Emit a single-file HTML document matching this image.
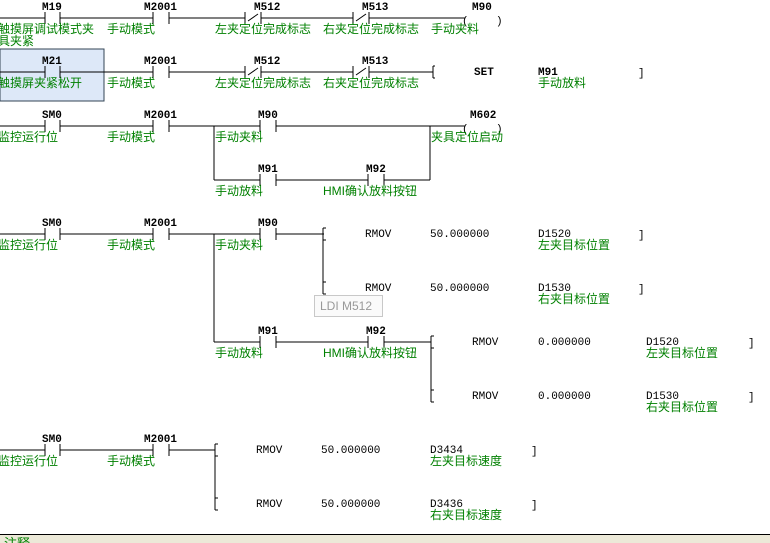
<!DOCTYPE html>
<html><head><meta charset="utf-8"><style>
html,body{margin:0;padding:0;background:#fff;width:770px;height:543px;overflow:hidden}
svg{display:block}
.d{font-family:"Liberation Mono",monospace;font-size:11px;font-weight:bold;fill:#000}
.c{font-family:"Liberation Sans","WenQuanYi Zen Hei","Noto Sans CJK SC",sans-serif;font-size:12px;fill:#008000}
.n{font-family:"Liberation Mono",monospace;font-size:11px;fill:#000}
line,path,polyline{stroke:#000;stroke-width:1;fill:none}
</style></head><body>
<svg width="770" height="543" viewBox="0 0 770 543" xmlns="http://www.w3.org/2000/svg" shape-rendering="crispEdges">
<rect x="0" y="49" width="104" height="52" fill="#dde8f8" stroke="#334455"/>
<!-- Row1 y=18 -->
<line x1="0" y1="18" x2="45" y2="18"/><line x1="60" y1="18" x2="153" y2="18"/><line x1="169" y1="18" x2="245" y2="18"/><line x1="261" y1="18" x2="353" y2="18"/><line x1="369" y1="18" x2="465" y2="18"/>
<path d="M45 12V24M60 12V24M153 12V24M169 12V24M245 12V24M261 12V24M353 12V24M369 12V24"/>
<path d="M248 21L258 14M356 21L366 14" shape-rendering="auto"/>
<text class="n" x="462" y="24">(</text><text class="n" x="496" y="24">)</text>
<text class="d" x="42" y="10">M19</text><text class="d" x="144" y="10">M2001</text><text class="d" x="254" y="10">M512</text><text class="d" x="362" y="10">M513</text><text class="d" x="472" y="10">M90</text>
<text class="c" x="-2" y="33">触摸屏调试模式夹</text><text class="c" x="-2" y="45">具夹紧</text><text class="c" x="107" y="33">手动模式</text><text class="c" x="215" y="33">左夹定位完成标志</text><text class="c" x="323" y="33">右夹定位完成标志</text><text class="c" x="431" y="33">手动夹料</text>
<!-- Row2 y=72 -->
<line x1="0" y1="72" x2="45" y2="72"/><line x1="60" y1="72" x2="153" y2="72"/><line x1="169" y1="72" x2="245" y2="72"/><line x1="261" y1="72" x2="353" y2="72"/><line x1="369" y1="72" x2="433" y2="72"/>
<path d="M45 66V78M60 66V78M153 66V78M169 66V78M245 66V78M261 66V78M353 66V78M369 66V78M433 66V78M433 66H435M433 78H435"/>
<path d="M248 75L258 68M356 75L366 68" shape-rendering="auto"/>
<text class="d" x="42" y="64" fill="#334">M21</text><text class="d" x="144" y="64">M2001</text><text class="d" x="254" y="64">M512</text><text class="d" x="362" y="64">M513</text>
<text class="d" x="474" y="75">SET</text><text class="d" x="538" y="75">M91</text><text class="n" x="638" y="76">]</text>
<text class="c" x="-2" y="87">触摸屏夹紧松开</text><text class="c" x="107" y="87">手动模式</text><text class="c" x="215" y="87">左夹定位完成标志</text><text class="c" x="323" y="87">右夹定位完成标志</text><text class="c" x="538" y="87">手动放料</text>
<!-- Row3 y=126 -->
<line x1="0" y1="126" x2="45" y2="126"/><line x1="60" y1="126" x2="153" y2="126"/><line x1="169" y1="126" x2="260" y2="126"/><line x1="276" y1="126" x2="465" y2="126"/>
<path d="M45 120V132M60 120V132M153 120V132M169 120V132M260 120V132M276 120V132M214 126V180M430 126V180"/>
<line x1="214" y1="180" x2="260" y2="180"/><line x1="276" y1="180" x2="368" y2="180"/><line x1="384" y1="180" x2="430" y2="180"/>
<path d="M260 174V186M276 174V186M368 174V186M384 174V186"/>
<text class="n" x="462" y="132">(</text><text class="n" x="496" y="132">)</text>
<text class="d" x="42" y="118">SM0</text><text class="d" x="144" y="118">M2001</text><text class="d" x="258" y="118">M90</text><text class="d" x="470" y="118">M602</text>
<text class="d" x="258" y="172">M91</text><text class="d" x="366" y="172">M92</text>
<text class="c" x="-2" y="141">监控运行位</text><text class="c" x="107" y="141">手动模式</text><text class="c" x="215" y="141">手动夹料</text><text class="c" x="431" y="141">夹具定位启动</text>
<text class="c" x="215" y="195">手动放料</text><text class="c" x="323" y="195">HMI确认放料按钮</text>
<!-- Row4 y=234 -->
<line x1="0" y1="234" x2="45" y2="234"/><line x1="60" y1="234" x2="153" y2="234"/><line x1="169" y1="234" x2="260" y2="234"/><line x1="276" y1="234" x2="324" y2="234"/>
<path d="M45 228V240M60 228V240M153 228V240M169 228V240M260 228V240M276 228V240M214 234V342M323 234V288M323 228V240M323 228H326M323 240H326M323 282V294M323 282H326M323 294H326"/>
<text class="d" x="42" y="226">SM0</text><text class="d" x="144" y="226">M2001</text><text class="d" x="258" y="226">M90</text>
<text class="c" x="-2" y="249">监控运行位</text><text class="c" x="107" y="249">手动模式</text><text class="c" x="215" y="249">手动夹料</text>
<text class="n" x="365" y="237">RMOV</text><text class="n" x="430" y="237">50.000000</text><text class="n" x="538" y="237">D1520</text><text class="n" x="638" y="238">]</text><text class="c" x="538" y="249">左夹目标位置</text>
<text class="n" x="365" y="291">RMOV</text><text class="n" x="430" y="291">50.000000</text><text class="n" x="538" y="291">D1530</text><text class="n" x="638" y="292">]</text><text class="c" x="538" y="303">右夹目标位置</text>
<line x1="214" y1="342" x2="260" y2="342"/><line x1="276" y1="342" x2="368" y2="342"/><line x1="384" y1="342" x2="431" y2="342"/>
<path d="M260 336V348M276 336V348M368 336V348M384 336V348M431 342V396M431 336V348M431 336H434M431 348H434M431 390V402M431 390H434M431 402H434"/>
<text class="d" x="258" y="334">M91</text><text class="d" x="366" y="334">M92</text>
<text class="c" x="215" y="357">手动放料</text><text class="c" x="323" y="357">HMI确认放料按钮</text>
<text class="n" x="472" y="345">RMOV</text><text class="n" x="538" y="345">0.000000</text><text class="n" x="646" y="345">D1520</text><text class="n" x="748" y="346">]</text><text class="c" x="646" y="357">左夹目标位置</text>
<text class="n" x="472" y="399">RMOV</text><text class="n" x="538" y="399">0.000000</text><text class="n" x="646" y="399">D1530</text><text class="n" x="748" y="400">]</text><text class="c" x="646" y="411">右夹目标位置</text>
<!-- tooltip -->
<rect x="314.5" y="295.5" width="68" height="21" fill="#fafafa" stroke="#c8c8c8"/>
<text x="320" y="310" style="font-family:'Liberation Sans',sans-serif;font-size:12px;fill:#999">LDI M512</text>
<!-- Row5 y=450 -->
<line x1="0" y1="450" x2="45" y2="450"/><line x1="60" y1="450" x2="153" y2="450"/><line x1="169" y1="450" x2="215" y2="450"/>
<path d="M45 444V456M60 444V456M153 444V456M169 444V456M215 450V504M215 444V456M215 444H218M215 456H218M215 498V510M215 498H218M215 510H218"/>
<text class="d" x="42" y="442">SM0</text><text class="d" x="144" y="442">M2001</text>
<text class="c" x="-2" y="465">监控运行位</text><text class="c" x="107" y="465">手动模式</text>
<text class="n" x="256" y="453">RMOV</text><text class="n" x="321" y="453">50.000000</text><text class="n" x="430" y="453">D3434</text><text class="n" x="531" y="454">]</text><text class="c" x="430" y="465">左夹目标速度</text>
<text class="n" x="256" y="507">RMOV</text><text class="n" x="321" y="507">50.000000</text><text class="n" x="430" y="507">D3436</text><text class="n" x="531" y="508">]</text><text class="c" x="430" y="519">右夹目标速度</text>
<!-- bottom panel -->
<rect x="0" y="535" width="770" height="8" fill="#ece9d8"/>
<line x1="0" y1="534.5" x2="770" y2="534.5"/>
<text class="c" x="4" y="548" style="font-size:13px">注释</text>
</svg>
</body></html>
